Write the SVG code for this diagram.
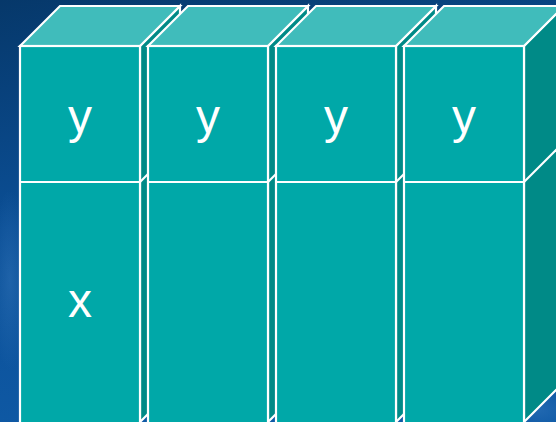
<svg xmlns="http://www.w3.org/2000/svg" width="556" height="422" viewBox="0 0 556 422">
<defs>
<linearGradient id="bg" x1="0" y1="0" x2="0.3" y2="1">
<stop offset="0" stop-color="#06386a"/>
<stop offset="0.5" stop-color="#0b4f96"/>
<stop offset="1" stop-color="#0f5aa6"/>
</linearGradient>
<radialGradient id="glow" cx="0.5" cy="0.5" r="0.5">
<stop offset="0" stop-color="#3a7cc0" stop-opacity="0.4"/>
<stop offset="1" stop-color="#3a7cc0" stop-opacity="0"/>
</radialGradient>
<style>
.front{fill:#00a8a8;stroke:#ffffff;stroke-width:2.2}
.top{fill:#40bcbb;stroke:#ffffff;stroke-width:2.2;stroke-linejoin:miter}
.side{fill:#008a87;stroke:#ffffff;stroke-width:2.2}
.div{stroke:#ffffff;stroke-width:2.2;fill:none}
.lbl{font-family:"Liberation Sans",Arial,sans-serif;font-size:48px;fill:#ffffff;text-anchor:middle}
</style>
</defs>
<rect width="556" height="422" fill="url(#bg)"/>
<ellipse cx="10" cy="280" rx="20" ry="90" fill="url(#glow)"/>
<ellipse cx="540" cy="410" rx="30" ry="20" fill="url(#glow)"/>
<g id="col1">
<polygon class="side" points="140,46 180,6 180,382 140,422"/>
<line class="div" x1="140" y1="182" x2="180" y2="142"/>
<polygon class="top" points="20,46 60,6 180,6 140,46"/>
<rect class="front" x="20" y="46" width="120" height="380"/>
<line class="div" x1="20" y1="182" x2="140" y2="182"/>
<text class="lbl" x="80" y="133">y</text>
<text class="lbl" x="80" y="317">x</text>
</g>
<g id="col2">
<polygon class="side" points="268,46 308,6 308,382 268,422"/>
<line class="div" x1="268" y1="182" x2="308" y2="142"/>
<polygon class="top" points="148,46 188,6 308,6 268,46"/>
<rect class="front" x="148" y="46" width="120" height="380"/>
<line class="div" x1="148" y1="182" x2="268" y2="182"/>
<text class="lbl" x="208" y="133">y</text>
</g>
<g id="col3">
<polygon class="side" points="396,46 436,6 436,382 396,422"/>
<line class="div" x1="396" y1="182" x2="436" y2="142"/>
<polygon class="top" points="276,46 316,6 436,6 396,46"/>
<rect class="front" x="276" y="46" width="120" height="380"/>
<line class="div" x1="276" y1="182" x2="396" y2="182"/>
<text class="lbl" x="336" y="133">y</text>
</g>
<g id="col4">
<polygon class="side" points="524,46 564,6 564,382 524,422"/>
<line class="div" x1="524" y1="182" x2="564" y2="142"/>
<polygon class="top" points="404,46 444,6 564,6 524,46"/>
<rect class="front" x="404" y="46" width="120" height="380"/>
<line class="div" x1="404" y1="182" x2="524" y2="182"/>
<text class="lbl" x="464" y="133">y</text>
</g>
<g id="connectors"/>
</svg>
